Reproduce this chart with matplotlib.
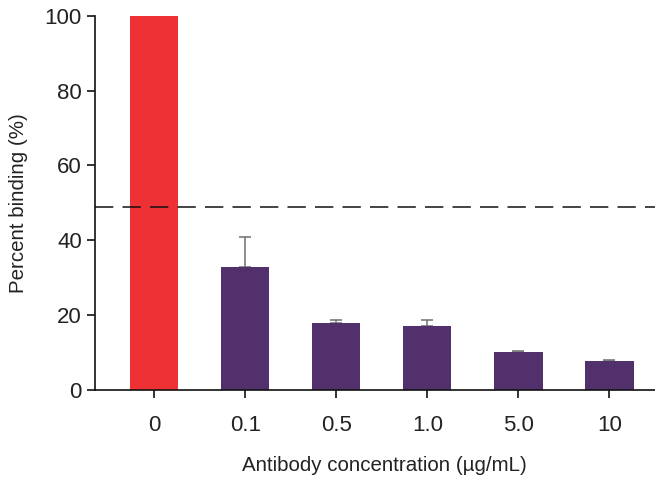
import numpy as np
import matplotlib.pyplot as plt

plt.rcParams['font.family'] = ['Liberation Sans', 'DejaVu Sans']

# data
concentrations = ['0', '0.1', '0.5', '1.0', '5.0', '10']
binding = [100, 32.9, 17.9, 17.1, 10.2, 7.8]
errors = [0, 8.0, 0.8, 1.6, 0.3, 0.2]
threshold = 49

colors = ['#EE3135'] + ['#52306B'] * 5

fig = plt.figure(figsize=(6.55, 4.79), dpi=100)
ax = fig.add_axes([0.145, 0.186, 0.855, 0.781])

x = np.arange(len(concentrations))
ax.bar(x, binding, width=0.53, color=colors, zorder=2)
# only the upper half of the error bars is drawn
ax.errorbar(x[1:], binding[1:], yerr=[np.zeros(5), errors[1:]], fmt='none',
            ecolor='#7a7a7a', elinewidth=1.2, capsize=4.3, capthick=1.2, zorder=1)

ax.axhline(threshold, color='#111111', lw=1.1, dashes=(12, 6), zorder=3)

ax.set_xlim(-0.65, 5.5)
ax.set_ylim(0, 100)
ax.set_yticks([0, 20, 40, 60, 80, 100])
ax.set_xticks(x)
ax.set_xticklabels(concentrations)

for s in ['top', 'right']:
    ax.spines[s].set_visible(False)
for s in ['left', 'bottom']:
    ax.spines[s].set_linewidth(1.2)
    ax.spines[s].set_color('#111111')

ax.tick_params(axis='both', length=6, width=1.2, color='#111111',
               labelsize=16, labelcolor='#222222')
ax.tick_params(axis='x', pad=12)

ax.set_xlabel('Antibody concentration (µg/mL)', fontsize=14.8, color='#222222')
ax.xaxis.set_label_coords(0.516, -0.176)
ax.set_ylabel('Percent binding (%)', fontsize=14.8, color='#222222', labelpad=12)

fig.savefig('out.png', dpi=100)
